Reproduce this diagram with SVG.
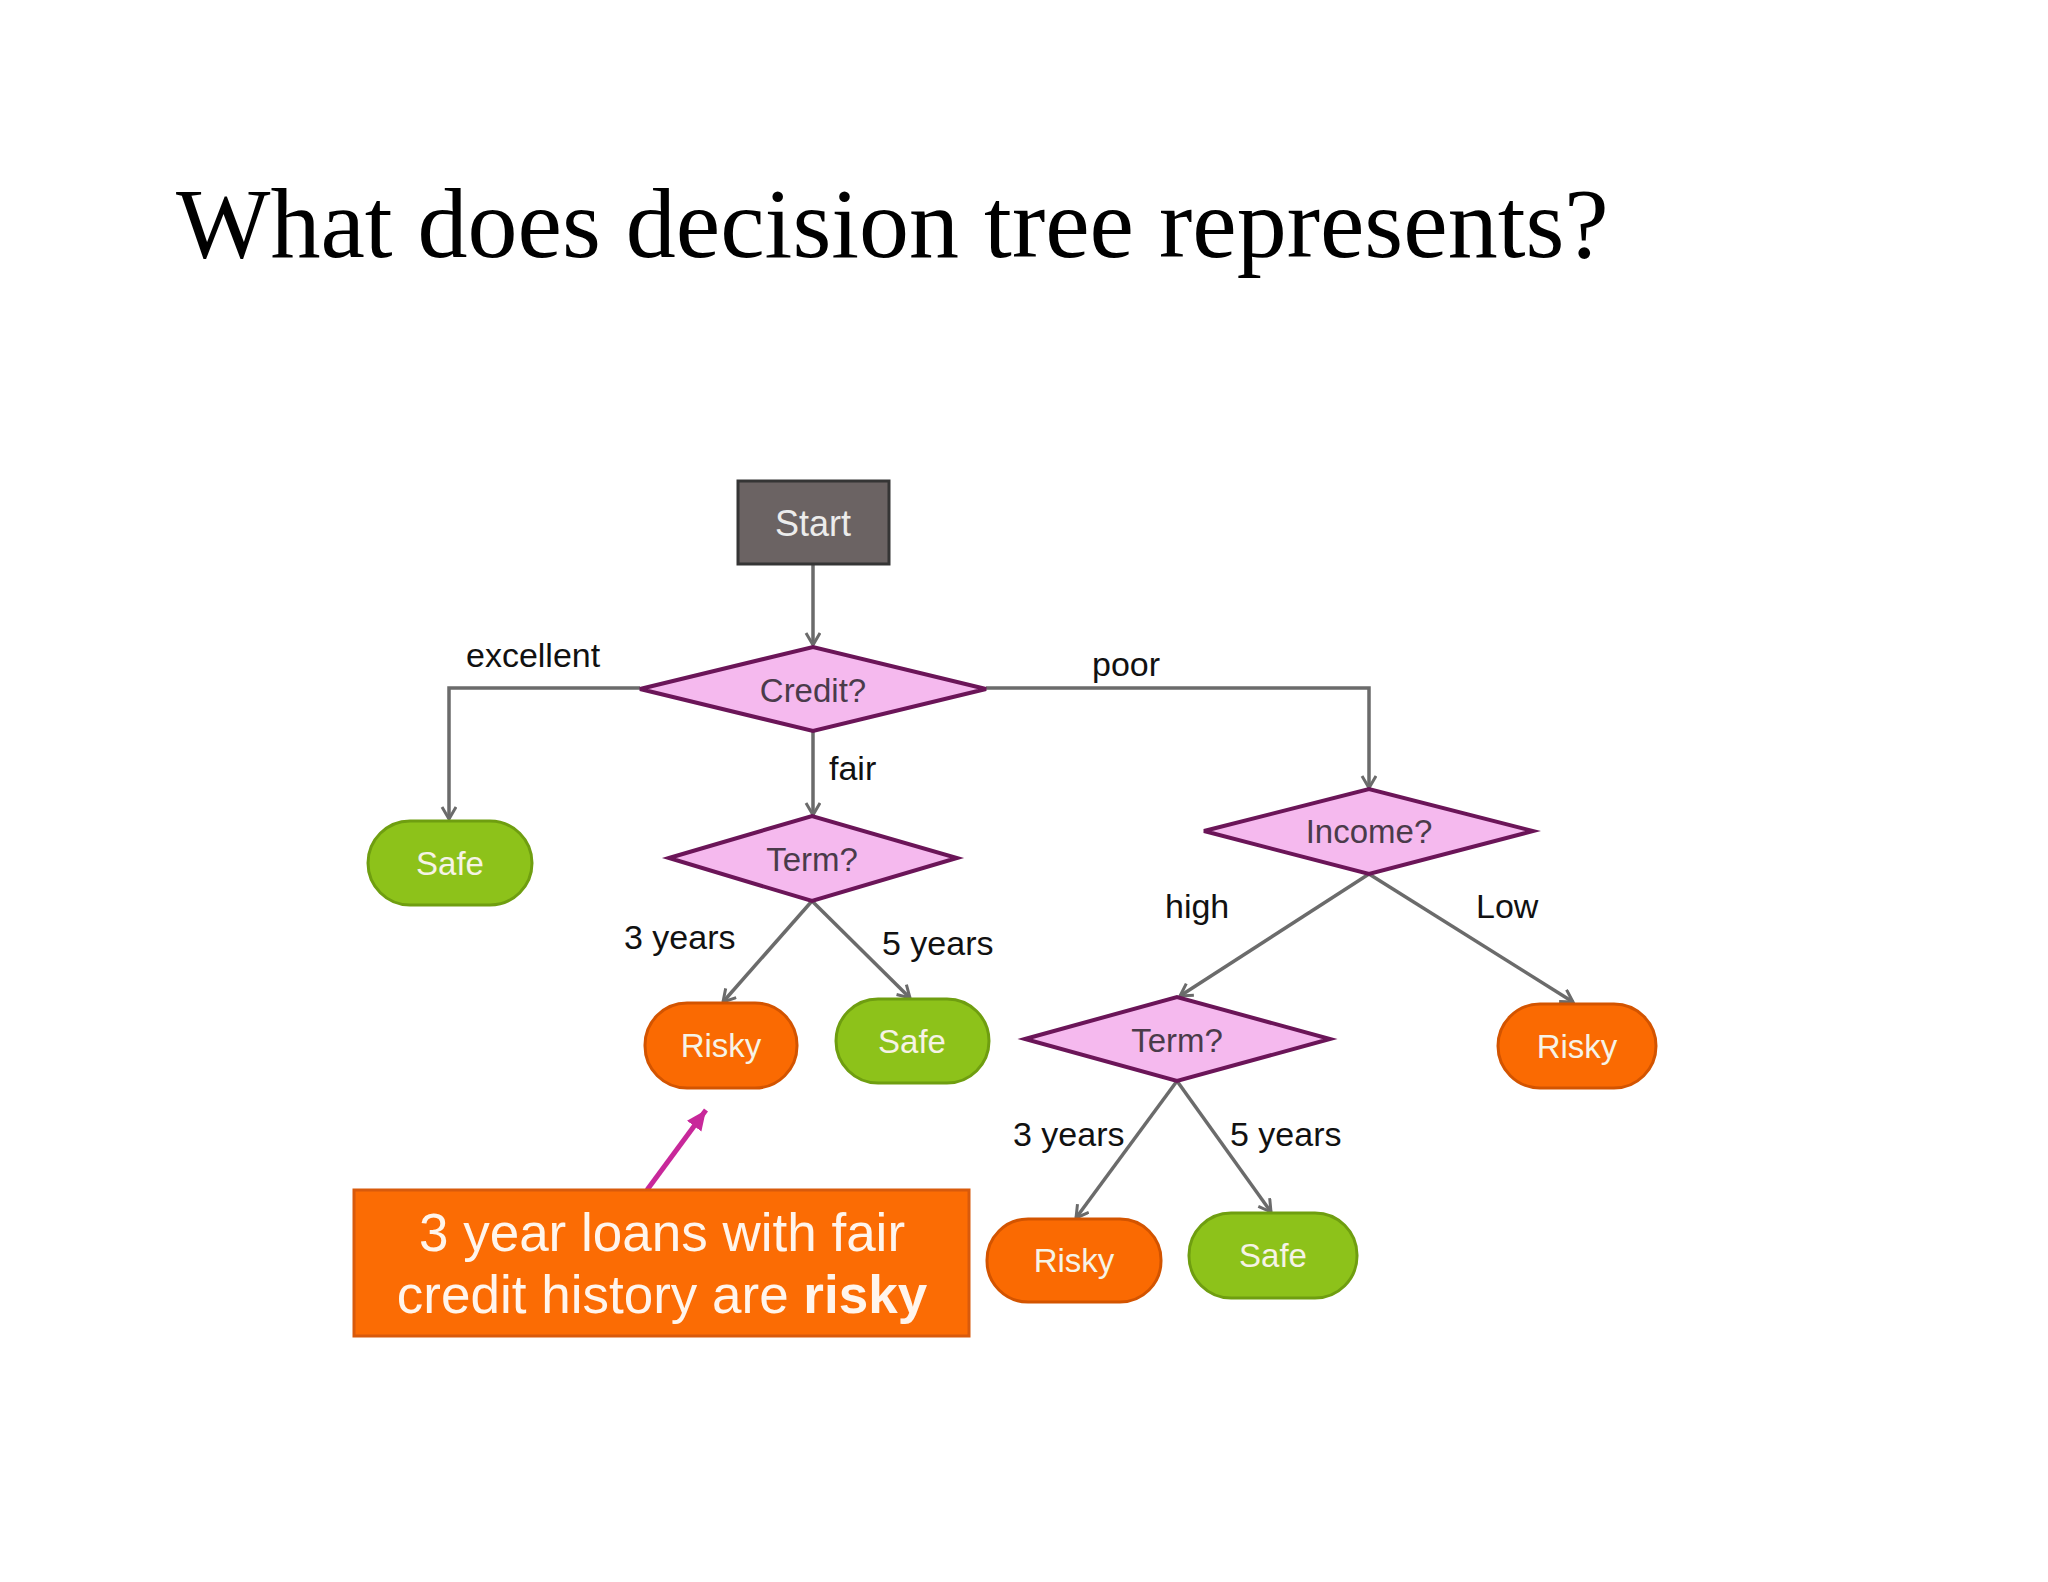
<svg xmlns="http://www.w3.org/2000/svg" width="2048" height="1582" viewBox="0 0 2048 1582">
<defs>
<marker id="arr" markerUnits="userSpaceOnUse" markerWidth="24" markerHeight="24" refX="14" refY="8" orient="auto">
<path d="M2,1 L14,8 L2,15" fill="none" stroke="#6b6b6b" stroke-width="3"/>
</marker>
<marker id="parr" markerUnits="userSpaceOnUse" markerWidth="30" markerHeight="30" refX="20" refY="10" orient="auto">
<path d="M0,1 L20,10 L0,19 Z" fill="#c8289a"/>
</marker>
<style>
.title{font-family:"Liberation Serif",serif;font-size:100px;fill:#000}
.conn{fill:none;stroke:#6b6b6b;stroke-width:3.5;marker-end:url(#arr)}
.lbl{font-family:"Liberation Sans",Arial,sans-serif;font-size:34px;fill:#111}
.dia{fill:#f5b9ee;stroke:#6b1558;stroke-width:4;stroke-linejoin:miter}
.dtxt{font-family:"Liberation Sans",Arial,sans-serif;font-size:33px;fill:#4a3b4a;text-anchor:middle}
.safe{fill:#8dc21a;stroke:#6f9e10;stroke-width:3}
.risky{fill:#fa6a02;stroke:#d35400;stroke-width:3}
.ptxt{font-family:"Liberation Sans",Arial,sans-serif;font-size:33px;fill:#f6f3e6;text-anchor:middle}
</style>
</defs>
<rect width="2048" height="1582" fill="#ffffff"/>
<text class="title" x="176" y="257">What does decision tree represents?</text>

<g id="connectors">
<line class="conn" x1="813" y1="564" x2="813" y2="645"/>
<polyline class="conn" points="640,688 449,688 449,819"/>
<line class="conn" x1="813" y1="731" x2="813" y2="815"/>
<polyline class="conn" points="986,688 1369,688 1369,788"/>
<line class="conn" x1="812" y1="901" x2="723" y2="1002"/>
<line class="conn" x1="812" y1="901" x2="910" y2="998"/>
<line class="conn" x1="1369" y1="874" x2="1180" y2="996"/>
<line class="conn" x1="1369" y1="874" x2="1573" y2="1002"/>
<line class="conn" x1="1177" y1="1081" x2="1076" y2="1218"/>
<line class="conn" x1="1177" y1="1081" x2="1271" y2="1212"/>
<line x1="647" y1="1190" x2="706" y2="1110" stroke="#c8289a" stroke-width="5" marker-end="url(#parr)"/>
<text class="lbl" x="466" y="667">excellent</text>
<text class="lbl" x="1092" y="676">poor</text>
<text class="lbl" x="829" y="780">fair</text>
<text class="lbl" x="624" y="949">3 years</text>
<text class="lbl" x="882" y="955">5 years</text>
<text class="lbl" x="1165" y="918">high</text>
<text class="lbl" x="1476" y="918">Low</text>
<text class="lbl" x="1013" y="1146">3 years</text>
<text class="lbl" x="1230" y="1146">5 years</text>
</g>

<g id="start">
<rect x="738" y="481" width="151" height="83" fill="#6b6363" stroke="#353535" stroke-width="3"/>
<text x="813" y="536" font-family="'Liberation Sans',Arial,sans-serif" font-size="36" fill="#ececec" text-anchor="middle">Start</text>
</g>

<g id="credit">
<polygon class="dia" points="640,689 813,647 986,689 813,731"/>
<text class="dtxt" x="813" y="702">Credit?</text>
</g>

<g id="safe1">
<rect class="safe" x="368" y="821" width="164" height="84" rx="42"/>
<text class="ptxt" x="450" y="875">Safe</text>
</g>

<g id="term1">
<polygon class="dia" points="669,858 812,816 957,858 812,901"/>
<text class="dtxt" x="812" y="871">Term?</text>
</g>

<g id="income">
<polygon class="dia" points="1204,831 1369,789 1533,831 1369,874"/>
<text class="dtxt" x="1369" y="843">Income?</text>
</g>

<g id="risky1">
<rect class="risky" x="645" y="1003" width="152" height="85" rx="42"/>
<text class="ptxt" x="721" y="1057">Risky</text>
</g>

<g id="safe2">
<rect class="safe" x="836" y="999" width="153" height="84" rx="42"/>
<text class="ptxt" x="912" y="1053">Safe</text>
</g>

<g id="term2">
<polygon class="dia" points="1025,1039 1177,997 1330,1039 1177,1081"/>
<text class="dtxt" x="1177" y="1052">Term?</text>
</g>

<g id="risky2">
<rect class="risky" x="1498" y="1004" width="158" height="84" rx="42"/>
<text class="ptxt" x="1577" y="1058">Risky</text>
</g>

<g id="risky3">
<rect class="risky" x="987" y="1219" width="174" height="83" rx="41"/>
<text class="ptxt" x="1074" y="1272">Risky</text>
</g>

<g id="safe3">
<rect class="safe" x="1189" y="1213" width="168" height="85" rx="42"/>
<text class="ptxt" x="1273" y="1267">Safe</text>
</g>

<g id="callout">
<rect x="354" y="1190" width="615" height="146" fill="#fb6c04" stroke="#d85a0c" stroke-width="3"/>
<text x="662" y="1251" font-family="'Liberation Sans',Arial,sans-serif" font-size="53" fill="#fff5ec" text-anchor="middle">3 year loans with fair</text>
<text x="662" y="1313" font-family="'Liberation Sans',Arial,sans-serif" font-size="53" fill="#fff5ec" text-anchor="middle">credit history are <tspan font-weight="bold">risky</tspan></text>
</g>
</svg>
